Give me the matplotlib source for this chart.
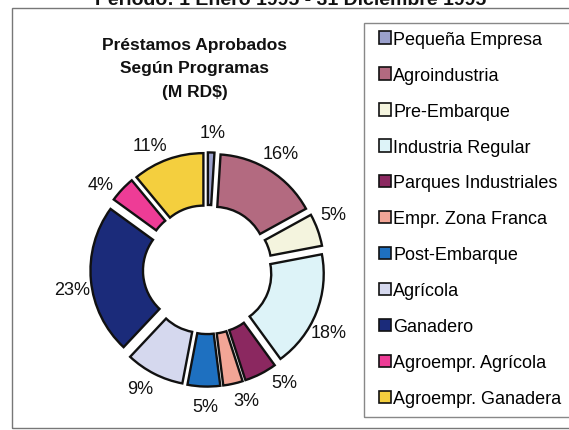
import numpy as np
import matplotlib
matplotlib.use("Agg")
import matplotlib.pyplot as plt
from matplotlib.patches import Patch, Rectangle

plt.rcParams['font.family'] = ['Liberation Sans', 'DejaVu Sans']

categories = ["Pequeña Empresa", "Agroindustria", "Pre-Embarque", "Industria Regular",
              "Parques Industriales", "Empr. Zona Franca", "Post-Embarque", "Agrícola",
              "Ganadero", "Agroempr. Agrícola", "Agroempr. Ganadera"]
shares = [1, 16, 5, 18, 5, 3, 5, 9, 23, 4, 11]
colors = ["#9AA0CC", "#B36A80", "#F4F4DE", "#DDF3F8", "#8B2860", "#F2A596",
          "#1E70C0", "#D5D8EE", "#1B2B7A", "#EE3C96", "#F4CF3E"]
# small angular nudges (degrees, clockwise) mimicking Excel's label placement
label_nudge = [0.3, -0.1, -4.1, 6.6, -7.7, -4.3, -1.2, 2.6, -3.4, -5.2, -5.4]

W, H = 569, 431
fig = plt.figure(figsize=(W / 100, H / 100), dpi=100)
fig.patch.set_facecolor("white")

def px(x, y):
    return x / W, 1 - y / H

# outer frame
fig.patches.append(Rectangle(px(12, 429), (590 - 12) / W, (429 - 9) / H,
                             transform=fig.transFigure, fill=False,
                             edgecolor="#777777", linewidth=1.0))

# clipped top title
fig.text(291 / W, 1 - 5 / H, "Período: 1 Enero 1995 - 31 Diciembre 1995",
         ha="center", va="baseline", fontsize=14, fontweight="bold", color="#111111")

# chart title
fig.text(195 / W, 1 - 69 / H, "Préstamos Aprobados\nSegún Programas\n(M RD$)",
         ha="center", va="center", fontsize=12.5, fontweight="bold",
         linespacing=1.68, color="#111111")

# pie axes: center (207.5,270.5), radius 105 px
cx, cy, R = 207.5, 270.5, 105
half = 1.5 * R
ax = fig.add_axes([(cx - half) / W, (H - cy - half) / H, 2 * half / W, 2 * half / H])

wedges, _ = ax.pie(
    shares, colors=colors, startangle=90, counterclock=False,
    explode=[0.115] * len(shares), radius=1.0,
    wedgeprops=dict(width=0.5, edgecolor="#111111", linewidth=1.7),
)
ld = 1.19
for w, s, nd in zip(wedges, shares, label_nudge):
    mid = np.deg2rad((w.theta1 + w.theta2) / 2 - nd)
    x0, y0 = w.center
    ax.text(x0 + ld * w.r * np.cos(mid), y0 + ld * w.r * np.sin(mid), f"{s}%",
            ha="center", va="center", fontsize=13, color="#111111")
ax.set_xlim(-1.5, 1.5)
ax.set_ylim(-1.5, 1.5)
ax.set_aspect("equal")
ax.axis("off")

# legend box
fig.patches.append(Rectangle(px(364, 418), (590 - 364) / W, (418 - 24) / H,
                             transform=fig.transFigure, fill=False,
                             edgecolor="#888888", linewidth=1.0))
handles = [Patch(facecolor=c, edgecolor="#111111", linewidth=1.2) for c in colors]
leg = fig.legend(handles, categories, loc="upper left",
                 bbox_to_anchor=px(366, 19), frameon=False,
                 fontsize=13, handlelength=0.7, handleheight=0.7,
                 handletextpad=0.12, labelspacing=1.05, borderpad=0.2)

fig.savefig("out.png", dpi=100, facecolor="white")
